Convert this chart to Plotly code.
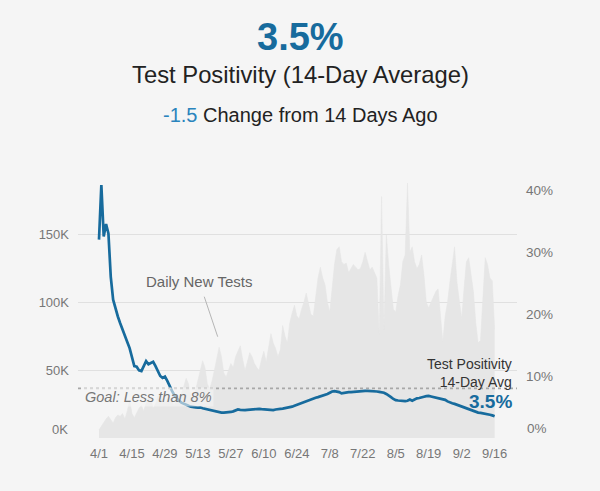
import pandas as pd
import plotly.graph_objects as go

start_date = "2020-04-01"

# Daily new tests (thousands), 4/1 .. 9/16
daily_tests_k = [
    6, 9, 12, 14, 16, 13, 11, 15, 17, 16, 18, 14, 20, 28, 18, 15, 19, 22, 24, 20,
    26, 30, 29, 22, 25, 31, 33, 27, 26, 28, 30, 27, 24, 29, 31, 33, 38, 44, 40, 30,
    28, 35, 42, 50, 57, 52, 40, 36, 42, 50, 58, 67, 60, 48, 45, 50, 55, 52, 60, 64,
    68, 58, 50, 56, 63, 60, 55, 52, 50, 58, 64, 56, 68, 77, 70, 66, 60, 65, 83, 75,
    70, 85, 92, 98, 90, 88, 95, 100, 107, 98, 91, 90, 105, 118, 126, 118, 113, 100, 93, 110,
    128, 139, 141, 130, 128, 129, 122, 125, 128, 126, 124, 125, 130, 137, 130, 124, 126, 122, 118, 76,
    178, 80, 150, 128, 110, 95, 93, 105, 113, 130, 135, 188, 137, 141, 130, 125, 128, 135, 120, 100,
    96, 100, 105, 108, 110, 90, 71, 90, 100, 115, 128, 141, 115, 100, 88, 110, 130, 133, 120, 108,
    85, 70, 72, 100, 133, 128, 118, 116, 80,
]

# Test positivity, 14-day average (%), 4/1 .. 9/16
positivity_pct = [
    32.0, 40.8, 32.5, 34.5, 33.0, 26.0, 22.3, 20.8, 19.6, 18.5,
    17.4, 16.5, 15.5, 14.5, 13.0, 11.6, 11.5, 10.9, 10.8, 11.5,
    12.4, 11.9, 12.1, 12.3, 11.6, 10.8, 10.0, 9.7, 9.9, 9.2,
    8.3, 7.6, 6.9, 6.4, 6.0, 5.7, 5.5, 5.3, 5.2, 5.05,
    4.95, 4.95, 4.9, 4.95, 4.8, 4.7, 4.6, 4.5, 4.4, 4.3,
    4.2, 4.1, 4.1, 4.1, 4.1, 4.15, 4.2, 4.3, 4.5, 4.6,
    4.55, 4.5, 4.5, 4.55, 4.6, 4.6, 4.6, 4.65, 4.7, 4.65,
    4.6, 4.6, 4.55, 4.5, 4.5, 4.6, 4.7, 4.7, 4.75, 4.8,
    4.9, 5.0, 5.05, 5.2, 5.35, 5.5, 5.6, 5.75, 5.9, 6.1,
    6.3, 6.4, 6.5, 6.6, 6.7, 6.85, 7.0, 7.1, 7.3, 7.5,
    7.55, 7.5, 7.4, 7.2, 7.3, 7.35, 7.4, 7.4, 7.45, 7.5,
    7.5, 7.55, 7.6, 7.6, 7.6, 7.6, 7.55, 7.5, 7.5, 7.45,
    7.4, 7.3, 7.1, 6.9, 6.6, 6.3, 6.1, 6.05, 6.0, 6.0,
    5.95, 6.0, 6.2, 6.0, 6.2, 6.4, 6.45, 6.6, 6.65, 6.75,
    6.8, 6.7, 6.6, 6.55, 6.5, 6.35, 6.3, 6.15, 5.9, 5.7,
    5.6, 5.5, 5.35, 5.2, 5.05, 4.95, 4.8, 4.6, 4.45, 4.3,
    4.15, 4.1, 4.05, 4.0, 3.95, 3.85, 3.75, 3.65, 3.5,
]

left_tick_vals = [50, 100, 150]
left_tick_text = ["50K", "100K", "150K"]
right_tick_vals = [10, 20, 30, 40]
right_tick_text = ["10%", "20%", "30%", "40%"]
left_zero_label = "0K"
right_zero_label = "0%"
goal_pct = 8
headline_value = "3.5%"
headline_title = "Test Positivity (14-Day Average)"
change_value = "-1.5"
change_text = "Change from 14 Days Ago"

dates = pd.date_range(start_date, periods=len(daily_tests_k), freq="D")

BLUE = "#176b9d"
BG = "#f5f5f5"
FONT = "Arial, Liberation Sans, sans-serif"
TICK = "#777777"

fig = go.Figure()
fig.add_trace(go.Scatter(
    x=dates, y=daily_tests_k, mode="lines", fill="tozeroy",
    line=dict(color="#e4e4e4", width=0.5), fillcolor="#e6e6e6",
    yaxis="y", hoverinfo="skip", showlegend=False,
))
fig.add_trace(go.Scatter(
    x=dates[:len(positivity_pct)], y=positivity_pct, mode="lines",
    line=dict(color=BLUE, width=2.7), yaxis="y2", showlegend=False,
))

fig.add_shape(type="line", xref="paper", x0=0, x1=1, yref="y2", y0=goal_pct, y1=goal_pct,
              line=dict(color="#a8a8a8", width=1.6, dash="dot"), layer="above")

annotations = [
    dict(xref="paper", yref="paper", x=0.507, y=(438 - 37) / 260, text=f"<b>{headline_value}</b>",
         showarrow=False, font=dict(size=38, color=BLUE, family=FONT), xanchor="center", yanchor="middle"),
    dict(xref="paper", yref="paper", x=0.507, y=(438 - 74) / 260, text=headline_title,
         showarrow=False, font=dict(size=23.8, color="#222222", family=FONT), xanchor="center", yanchor="middle"),
    dict(xref="paper", yref="paper", x=0.507, y=(438 - 115) / 260,
         text=f"<span style='color:#2a84bd'>{change_value}</span> {change_text}",
         showarrow=False, font=dict(size=20, color="#222222", family=FONT), xanchor="center", yanchor="middle"),
    dict(xref="paper", yref="y2", x=5 / 439, y=(438 - 397) / 6.2, text="<i>Goal: Less than 8%</i>",
         showarrow=False, font=dict(size=14.5, color="#777777", family=FONT), xanchor="left", yanchor="middle",
         bgcolor="rgba(245,245,245,0.6)", borderpad=1),
    dict(x=dates[0] + pd.Timedelta(hours=50.4 * 24), y=74.7, xref="x", yref="y",
         text="Daily New Tests", showarrow=True, arrowhead=0, arrowwidth=1, arrowcolor="#b5b5b5",
         ax=-18.7, ay=-55.7, startstandoff=6,
         font=dict(size=15, color="#666666", family=FONT)),
    dict(xref="paper", yref="y2", x=(514 - 78) / 439, y=(438 - 372.5) / 6.2,
         text="Test Positivity<br>14-Day Avg", showarrow=False, align="right",
         font=dict(size=14, color="#333333", family=FONT), xanchor="right", yanchor="middle"),
    dict(xref="paper", yref="y2", x=(514 - 78) / 439, y=(438 - 401) / 6.2,
         text=f"<b>{headline_value}</b>", showarrow=False,
         font=dict(size=19, color=BLUE, family=FONT), xanchor="right", yanchor="middle"),
    dict(xref="paper", yref="y", x=0, y=0, text=left_zero_label, showarrow=False,
         xanchor="right", yanchor="middle", xshift=-8, yshift=9,
         font=dict(size=13, color=TICK, family=FONT)),
    dict(xref="paper", yref="y2", x=1, y=0, text=right_zero_label, showarrow=False,
         xanchor="left", yanchor="middle", xshift=8, yshift=10,
         font=dict(size=13.5, color=TICK, family=FONT)),
]

fig.update_layout(
    width=600, height=491,
    margin=dict(l=78, r=83, t=178, b=53),
    paper_bgcolor=BG, plot_bgcolor=BG,
    font=dict(family=FONT, color=TICK),
    xaxis=dict(
        range=["2020-03-23 02:00", "2020-09-25 12:00"],
        tickformat="%-m/%-d", dtick=14 * 86400000, tick0="2020-04-01",
        showgrid=False, zeroline=False, showline=False,
        tickfont=dict(size=13, color=TICK), ticks="", ticklabelstandoff=6,
    ),
    yaxis=dict(
        range=[0, 260 / 67.8 * 50], tickvals=left_tick_vals, ticktext=left_tick_text,
        showgrid=True, gridcolor="#e0e0e0", gridwidth=1, zeroline=False, showline=False,
        tickfont=dict(size=13, color=TICK), ticks="", ticklabelstandoff=8,
    ),
    yaxis2=dict(
        range=[0, 260 / 6.2], tickvals=right_tick_vals, ticktext=right_tick_text,
        overlaying="y", side="right", showgrid=False, zeroline=False, showline=False,
        tickfont=dict(size=13.5, color=TICK), ticks="", ticklabelstandoff=8,
    ),
    annotations=annotations,
    hovermode=False,
)

fig.write_html(
    "out.html",
    config={"displayModeBar": False},
    post_script="document.body.style.margin='0';document.body.style.background='#f5f5f5';",
)
